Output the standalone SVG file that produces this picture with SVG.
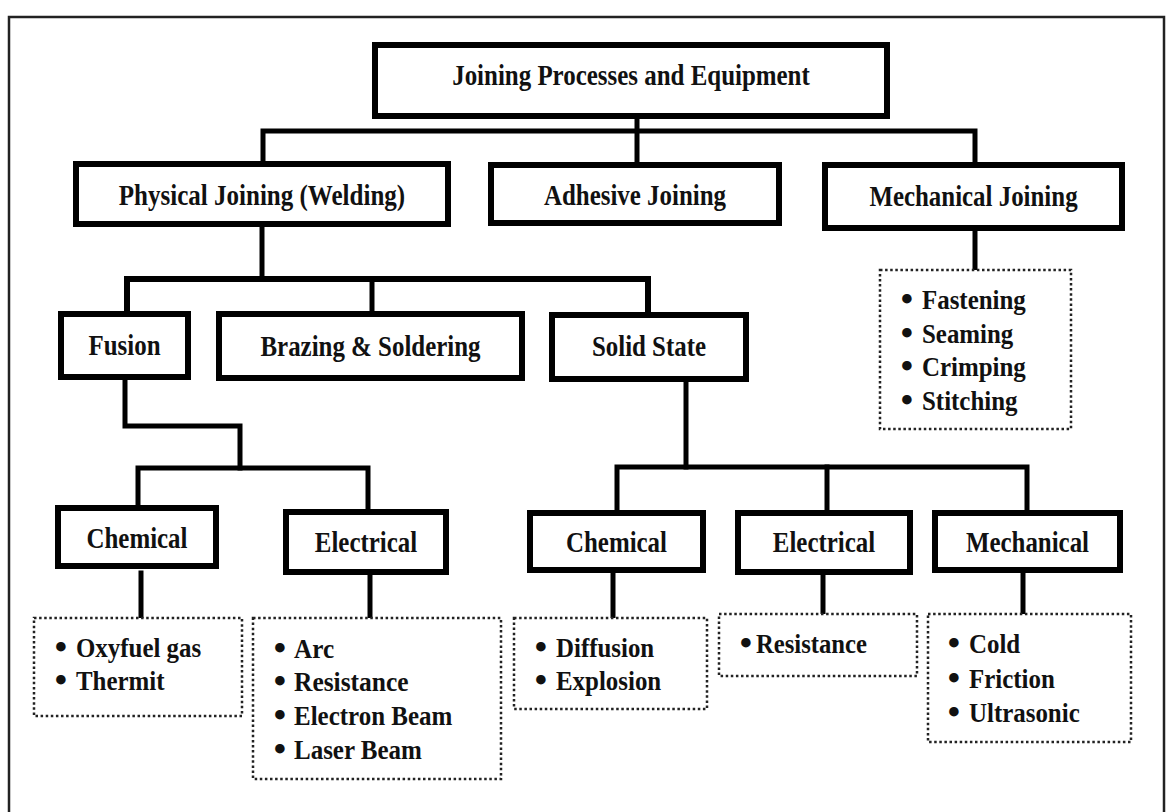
<svg xmlns="http://www.w3.org/2000/svg" width="1172" height="812" viewBox="0 0 1172 812">
<style>
.box{fill:#fff;stroke:#000;stroke-width:6}
.list{fill:#fff;stroke:#222;stroke-width:2.5;stroke-dasharray:2.5 2.6}
.conn{fill:none;stroke:#000;stroke-width:5;stroke-linecap:square;stroke-linejoin:miter}
.lbl{font-family:"Liberation Serif","Times New Roman",serif;font-weight:bold;font-size:30px;fill:#111;text-anchor:middle}
.item{font-family:"Liberation Serif","Times New Roman",serif;font-weight:bold;font-size:28px;fill:#111}
.b{font-family:"DejaVu Sans",sans-serif;font-weight:bold;font-size:27px;fill:#111;text-anchor:middle}
</style>
<rect x="0" y="0" width="1172" height="812" fill="#fff"/>
<rect id="frame" x="9" y="17" width="1155" height="830" fill="#fff" stroke="#222" stroke-width="2.5"/>
<g id="connectors">
<path class="conn" d="M637 119 V162"/>
<path class="conn" d="M263 161 V131 H975 V162"/>
<path class="conn" d="M262 227 V279"/>
<path class="conn" d="M127 311 V279 H648 V312" style="stroke-width:6"/>
<path class="conn" d="M372 279 V311"/>
<path class="conn" d="M975 231 V269"/>
<path class="conn" d="M125 380 V426 H240 V468"/>
<path class="conn" d="M138 505 V468 H368 V509"/>
<path class="conn" d="M141 573 V617"/>
<path class="conn" d="M370 575 V617"/>
<path class="conn" d="M686 382 V467"/>
<path class="conn" d="M617 510 V467 H1027 V510"/>
<path class="conn" d="M827 467 V510"/>
<path class="conn" d="M613 573 V617"/>
<path class="conn" d="M823 575 V613"/>
<path class="conn" d="M1023 573 V613"/>
</g>
<g id="n-title">
<rect class="box" x="375" y="45" width="512" height="71"/>
<text class="lbl" x="631" y="85" textLength="357.6" lengthAdjust="spacingAndGlyphs">Joining Processes and Equipment</text>
</g>
<g id="n-physical">
<rect class="box" x="76" y="164" width="372" height="60"/>
<text class="lbl" x="262" y="205" textLength="286.4" lengthAdjust="spacingAndGlyphs">Physical Joining (Welding)</text>
</g>
<g id="n-adhesive">
<rect class="box" x="491" y="165" width="288" height="58"/>
<text class="lbl" x="635" y="205" textLength="182" lengthAdjust="spacingAndGlyphs">Adhesive Joining</text>
</g>
<g id="n-mechjoin">
<rect class="box" x="825" y="165" width="297" height="63"/>
<text class="lbl" x="973.5" y="206" textLength="208.2" lengthAdjust="spacingAndGlyphs">Mechanical Joining</text>
</g>
<g id="n-mechjoin-list">
<rect class="list" x="880" y="270" width="191" height="159"/>
<text class="b" x="907" y="309">•</text>
<text class="item" x="922" y="309" textLength="103.8" lengthAdjust="spacingAndGlyphs">Fastening</text>
<text class="b" x="907" y="343">•</text>
<text class="item" x="922" y="343" textLength="91.3" lengthAdjust="spacingAndGlyphs">Seaming</text>
<text class="b" x="907" y="376">•</text>
<text class="item" x="922" y="376" textLength="103.8" lengthAdjust="spacingAndGlyphs">Crimping</text>
<text class="b" x="907" y="410">•</text>
<text class="item" x="922" y="410" textLength="95.5" lengthAdjust="spacingAndGlyphs">Stitching</text>
</g>
<g id="n-fusion">
<rect class="box" x="61" y="314" width="127" height="63"/>
<text class="lbl" x="124.5" y="355" textLength="72" lengthAdjust="spacingAndGlyphs">Fusion</text>
</g>
<g id="n-brazing">
<rect class="box" x="219" y="314" width="303" height="64"/>
<text class="lbl" x="370.5" y="356" textLength="220" lengthAdjust="spacingAndGlyphs">Brazing &amp; Soldering</text>
</g>
<g id="n-solid">
<rect class="box" x="552" y="315" width="194" height="64"/>
<text class="lbl" x="649" y="356" textLength="114.1" lengthAdjust="spacingAndGlyphs">Solid State</text>
</g>
<g id="n-chem-fusion">
<rect class="box" x="58" y="508" width="158" height="58"/>
<text class="lbl" x="137" y="548" textLength="101" lengthAdjust="spacingAndGlyphs">Chemical</text>
</g>
<g id="n-elec-fusion">
<rect class="box" x="286" y="512" width="160" height="60"/>
<text class="lbl" x="366" y="552" textLength="102.3" lengthAdjust="spacingAndGlyphs">Electrical</text>
</g>
<g id="n-chem-fusion-list">
<rect class="list" x="34" y="618" width="208" height="98"/>
<text class="b" x="61" y="657">•</text>
<text class="item" x="76" y="657" textLength="125.2" lengthAdjust="spacingAndGlyphs">Oxyfuel gas</text>
<text class="b" x="61" y="690">•</text>
<text class="item" x="76" y="690" textLength="88.5" lengthAdjust="spacingAndGlyphs">Thermit</text>
</g>
<g id="n-elec-fusion-list">
<rect class="list" x="253" y="618" width="248" height="161"/>
<text class="b" x="280" y="658">•</text>
<text class="item" x="294" y="658" textLength="40.1" lengthAdjust="spacingAndGlyphs">Arc</text>
<text class="b" x="280" y="691">•</text>
<text class="item" x="294" y="691" textLength="114.5" lengthAdjust="spacingAndGlyphs">Resistance</text>
<text class="b" x="280" y="725">•</text>
<text class="item" x="294" y="725" textLength="158.4" lengthAdjust="spacingAndGlyphs">Electron Beam</text>
<text class="b" x="280" y="759">•</text>
<text class="item" x="294" y="759" textLength="127.9" lengthAdjust="spacingAndGlyphs">Laser Beam</text>
</g>
<g id="n-chem-solid">
<rect class="box" x="530" y="513" width="173" height="57"/>
<text class="lbl" x="616.5" y="552" textLength="101" lengthAdjust="spacingAndGlyphs">Chemical</text>
</g>
<g id="n-elec-solid">
<rect class="box" x="738" y="513" width="172" height="59"/>
<text class="lbl" x="824" y="552" textLength="102.3" lengthAdjust="spacingAndGlyphs">Electrical</text>
</g>
<g id="n-mech-solid">
<rect class="box" x="935" y="513" width="185" height="57"/>
<text class="lbl" x="1027.5" y="552" textLength="123.1" lengthAdjust="spacingAndGlyphs">Mechanical</text>
</g>
<g id="n-chem-solid-list">
<rect class="list" x="514" y="618" width="193" height="91"/>
<text class="b" x="541" y="657">•</text>
<text class="item" x="556" y="657" textLength="98.2" lengthAdjust="spacingAndGlyphs">Diffusion</text>
<text class="b" x="541" y="690">•</text>
<text class="item" x="556" y="690" textLength="105.2" lengthAdjust="spacingAndGlyphs">Explosion</text>
</g>
<g id="n-elec-solid-list">
<rect class="list" x="719" y="614" width="198" height="62"/>
<text class="b" x="746" y="653">•</text>
<text class="item" x="756" y="653" textLength="111" lengthAdjust="spacingAndGlyphs">Resistance</text>
</g>
<g id="n-mech-solid-list">
<rect class="list" x="928" y="614" width="203" height="128"/>
<text class="b" x="954" y="653">•</text>
<text class="item" x="969" y="653" textLength="51.2" lengthAdjust="spacingAndGlyphs">Cold</text>
<text class="b" x="954" y="688">•</text>
<text class="item" x="969" y="688" textLength="85.8" lengthAdjust="spacingAndGlyphs">Friction</text>
<text class="b" x="954" y="722">•</text>
<text class="item" x="969" y="722" textLength="110.7" lengthAdjust="spacingAndGlyphs">Ultrasonic</text>
</g>
</svg>
